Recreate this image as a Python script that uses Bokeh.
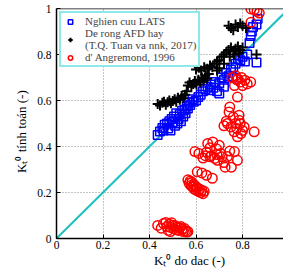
from bokeh.plotting import figure
from bokeh.models import Range1d, FixedTicker, Legend, LegendItem, Span
from bokeh.embed import file_html
from bokeh.resources import INLINE

FONT = "Liberation Serif"

# ---- data ----
lats_x = [0.435, 0.445, 0.455, 0.460, 0.465, 0.475, 0.480, 0.485, 0.490, 0.495,
          0.500, 0.505, 0.510, 0.515, 0.520, 0.525, 0.530, 0.535, 0.540, 0.545,
          0.550, 0.555, 0.560, 0.565, 0.570, 0.575, 0.585, 0.590, 0.600, 0.610,
          0.620, 0.630, 0.640, 0.650, 0.660, 0.665, 0.675, 0.680, 0.690, 0.700,
          0.710, 0.720, 0.730, 0.740, 0.750, 0.760, 0.770, 0.780, 0.790, 0.800,
          0.810, 0.820, 0.830, 0.835, 0.840, 0.845, 0.860, 0.865, 0.860, 0.700,
          0.720, 0.760]
lats_y = [0.450, 0.465, 0.480, 0.470, 0.495, 0.500, 0.478, 0.510, 0.470, 0.520,
          0.505, 0.530, 0.490, 0.545, 0.500, 0.520, 0.540, 0.510, 0.555, 0.530,
          0.560, 0.545, 0.575, 0.565, 0.590, 0.580, 0.605, 0.595, 0.600, 0.615,
          0.625, 0.640, 0.650, 0.660, 0.645, 0.670, 0.655, 0.680, 0.640, 0.675,
          0.700, 0.690, 0.720, 0.705, 0.735, 0.745, 0.760, 0.780, 0.775, 0.790,
          0.770, 0.800, 0.850, 0.880, 0.900, 0.920, 0.930, 0.955, 0.765, 0.630,
          0.660, 0.700]

afd_x = [0.435, 0.445, 0.455, 0.462, 0.470, 0.478, 0.485, 0.492, 0.500, 0.508,
         0.515, 0.522, 0.530, 0.538, 0.545, 0.552, 0.560, 0.565, 0.572, 0.580,
         0.588, 0.595, 0.602, 0.610, 0.618, 0.625, 0.632, 0.640, 0.648, 0.655,
         0.600, 0.612, 0.622, 0.635, 0.648, 0.660, 0.670, 0.680, 0.690, 0.700,
         0.710, 0.720, 0.730, 0.740, 0.750, 0.760, 0.770, 0.780, 0.790, 0.800,
         0.745, 0.765, 0.785, 0.740, 0.750, 0.760, 0.770, 0.780, 0.790, 0.800,
         0.815, 0.860, 0.700, 0.720, 0.690]
afd_y = [0.585, 0.578, 0.590, 0.595, 0.582, 0.592, 0.600, 0.588, 0.598, 0.605,
         0.595, 0.612, 0.603, 0.620, 0.610, 0.625, 0.640, 0.665, 0.678, 0.660,
         0.672, 0.685, 0.668, 0.690, 0.678, 0.700, 0.685, 0.710, 0.695, 0.715,
         0.735, 0.742, 0.730, 0.745, 0.738, 0.752, 0.745, 0.760, 0.770, 0.775,
         0.790, 0.800, 0.810, 0.820, 0.830, 0.815, 0.825, 0.835, 0.820, 0.830,
         0.790, 0.800, 0.805, 0.925, 0.915, 0.905, 0.930, 0.920, 0.935, 0.925,
         0.915, 0.800, 0.740, 0.760, 0.730]

dang_x = [0.435, 0.450, 0.460, 0.470, 0.475, 0.480, 0.485, 0.490, 0.500, 0.505,
          0.510, 0.515, 0.520, 0.525, 0.530, 0.535, 0.540, 0.545, 0.550, 0.555,
          0.560, 0.565, 0.495, 0.490,
          0.565, 0.570, 0.575, 0.578, 0.582, 0.585, 0.590, 0.592, 0.598, 0.600,
          0.605, 0.610, 0.615, 0.620, 0.625, 0.630, 0.635, 0.605, 0.625, 0.645,
          0.670,
          0.595, 0.612, 0.630, 0.645, 0.650, 0.660, 0.665, 0.672, 0.680, 0.688,
          0.692, 0.700, 0.705, 0.712, 0.720, 0.725, 0.735, 0.745, 0.752, 0.765,
          0.778, 0.660, 0.640, 0.690,
          0.745, 0.742, 0.735, 0.720, 0.750, 0.760, 0.764, 0.775, 0.778, 0.785,
          0.785, 0.793, 0.800, 0.807, 0.850, 0.778, 0.730, 0.770, 0.790,
          0.755, 0.770, 0.780, 0.790, 0.800, 0.810, 0.820, 0.835, 0.765, 0.775,
          0.795,
          0.836, 0.850, 0.862, 0.872, 0.836]
dang_y = [0.057, 0.045, 0.065, 0.070, 0.052, 0.035, 0.062, 0.048, 0.058, 0.042,
          0.055, 0.038, 0.050, 0.035, 0.046, 0.052, 0.040, 0.030, 0.044, 0.034,
          0.028, 0.030, 0.068, 0.030,
          0.255, 0.240, 0.250, 0.230, 0.245, 0.225, 0.235, 0.215, 0.228, 0.210,
          0.220, 0.205, 0.215, 0.200, 0.210, 0.195, 0.205, 0.290, 0.285, 0.275,
          0.262,
          0.378, 0.370, 0.350, 0.375, 0.413, 0.395, 0.360, 0.420, 0.348, 0.390,
          0.340, 0.405, 0.370, 0.355, 0.330, 0.310, 0.356, 0.380, 0.310, 0.378,
          0.340, 0.355, 0.360, 0.365,
          0.572, 0.550, 0.500, 0.490, 0.485, 0.528, 0.464, 0.478, 0.442, 0.514,
          0.536, 0.456, 0.470, 0.485, 0.464, 0.615, 0.510, 0.500, 0.500,
          0.700, 0.708, 0.694, 0.680, 0.665, 0.688, 0.672, 0.680, 0.665, 0.690,
          0.700,
          0.998, 0.995, 0.988, 0.980, 0.940]

ref_x = [0, 1]
ref_y = [0, 1]

ticks = [0, 0.2, 0.4, 0.6, 0.8, 1]
tick_labels = ["0", "0.2", "0.4", "0.6", "0.8", "1"]

x_title = "K\u209c\u2070 do dac (-)"
y_title = "K\u209c\u2070 tính toán (-)"
legend_labels = ["Nghien cuu LATS", "De rong AFD hay\n(T.Q. Tuan va nnk, 2017)", "d' Angremond, 1996"]

NB = "\u00a0"

# ---- figure ----
p = figure(width=283, height=270, output_backend="svg", toolbar_location=None,
           x_range=Range1d(0, 0.976), y_range=Range1d(0, 1),
           min_border_left=56, min_border_right=0, min_border_top=8, min_border_bottom=31)
p.outline_line_color = None
p.background_fill_color = "white"
p.border_fill_color = "white"

for ax in (p.xaxis[0], p.yaxis[0]):
    ax.ticker = FixedTicker(ticks=ticks)
    ax.major_label_overrides = {t: l for t, l in zip(ticks, tick_labels)}
    ax.major_tick_in = 4
    ax.major_tick_out = 0
    ax.minor_tick_line_color = None
    ax.axis_line_width = 1.5
    ax.axis_line_color = "black"
    ax.major_tick_line_color = "black"
    ax.major_label_text_font = FONT
    ax.major_label_text_font_size = "11.5px"
    ax.major_label_text_color = "black"
    ax.axis_label_text_font = FONT
    ax.axis_label_text_font_size = "13px"
    ax.axis_label_text_font_style = "normal"
    ax.axis_label_text_color = "black"
p.xaxis.major_label_standoff = 2
p.yaxis.major_label_standoff = 5
p.xaxis.axis_label = NB * 12 + x_title
p.yaxis.axis_label = y_title + NB * 5
p.xaxis.axis_label_standoff = 1
p.yaxis.axis_label_standoff = 5

p.grid.grid_line_color = "#8a8a8a"
p.grid.grid_line_dash = "1 2"
p.grid.grid_line_width = 1
p.grid.ticker = FixedTicker(ticks=ticks)

p.add_layout(Span(location=1, dimension="width", line_color="black", line_width=1.5))

p.line(ref_x, ref_y, line_color="#1EC0C0", line_width=2)

r1 = p.scatter(lats_x, lats_y, marker="square", size=8.5, fill_color=None,
               line_color="#0000FF", line_width=1.5)
r2 = p.scatter(afd_x, afd_y, marker="cross", size=10, line_color="black", line_width=2)
r3 = p.scatter(dang_x, dang_y, marker="circle", size=9.5, fill_color=None,
               line_color="#FF0000", line_width=1.5)

legend = Legend(items=[LegendItem(label=legend_labels[0], renderers=[r1]),
                       LegendItem(label=legend_labels[1], renderers=[r2]),
                       LegendItem(label=legend_labels[2], renderers=[r3])],
                orientation="vertical", location="top_left")
legend.margin = 3
legend.padding = 2
legend.spacing = 0
legend.glyph_width = 14
legend.glyph_height = 11
legend.label_height = 11
legend.label_standoff = 8
legend.label_text_font = FONT
legend.label_text_font_size = "11px"
legend.border_line_color = "#19D4D4"
legend.border_line_width = 2
legend.background_fill_alpha = 1
p.add_layout(legend)

open("out.html", "w").write(file_html(p, INLINE))
